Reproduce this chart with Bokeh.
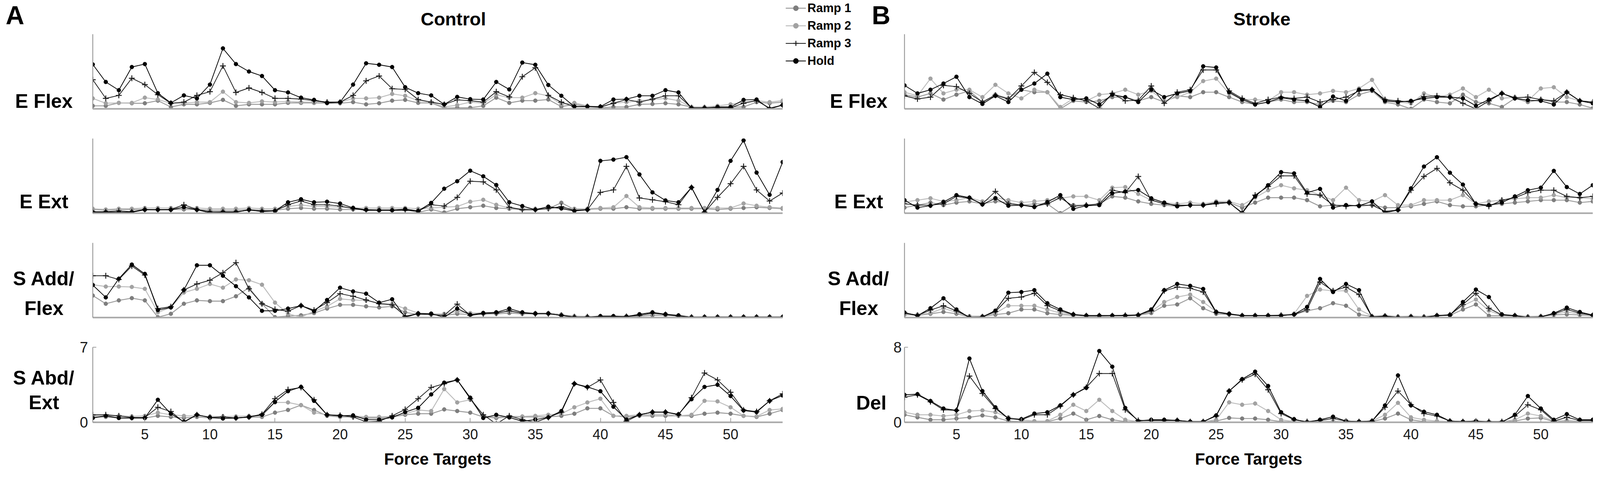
from bokeh.plotting import figure
from bokeh.layouts import column, row
from bokeh.models import Label, Legend, LegendItem, FixedTicker, Range1d, ColumnDataSource
from bokeh.embed import file_html
from bokeh.resources import INLINE

# ---------------- data ----------------
targets = list(range(1, 55))
series_labels = ["Ramp 1", "Ramp 2", "Ramp 3", "Hold"]
x_tick_values = [5, 10, 15, 20, 25, 30, 35, 40, 45, 50]
control_row_labels = [["E Flex"], ["E Ext"], ["S Add/", "Flex"], ["S Abd/", "Ext"]]
stroke_row_labels = [["E Flex"], ["E Ext"], ["S Add/", "Flex"], ["Del"]]
upper_ymax = 10
control_bottom_ymax = 7
stroke_bottom_ymax = 8

# Control - E Flex
ctrl_eflex_ramp1 = [0.4, 0.4, 0.8, 0.75, 0.75, 1.1, 0.25, 0.6, 0.6, 0.8,
                    1.2, 0.4, 0.6, 0.6, 0.6, 0.8, 0.8, 0.8, 0.75, 0.75,
                    0.9, 0.6, 0.75, 1.1, 1.2, 0.8, 0.8, 0.1, 0.15, 0.15,
                    0.4, 1.5, 0.8, 1.1, 1.1, 1.25, 0.3, 0.6, 0.3, 0.15,
                    0.25, 0.25, 0.6, 0.65, 0.75, 0.6, 0.25, 0.15, 0.25, 0.25,
                    0.25, 0.9, 0.75, 0.9]
ctrl_eflex_ramp2 = [1.4, 0.75, 0.8, 0.8, 1.5, 1.25, 0.75, 0.75, 0.9, 0.9,
                    2.3, 0.9, 0.8, 1.0, 0.9, 1.0, 0.9, 0.9, 0.9, 0.9,
                    1.4, 1.4, 1.5, 2.0, 1.75, 1.1, 0.9, 0.25, 0.5, 0.9,
                    0.75, 1.9, 1.5, 1.5, 2.1, 1.75, 0.6, 0.8, 0.4, 0.25,
                    0.75, 0.9, 1.1, 1.25, 1.4, 1.1, 0.25, 0.25, 0.4, 0.6,
                    0.9, 1.1, 0.9, 1.1]
ctrl_eflex_ramp3 = [3.9, 1.4, 1.8, 4.1, 3.25, 1.9, 0.75, 0.9, 1.8, 2.3,
                    5.75, 2.2, 2.8, 2.2, 1.4, 1.4, 1.3, 1.1, 0.9, 0.9,
                    1.8, 3.75, 4.4, 2.7, 2.6, 1.25, 0.9, 0.6, 1.2, 1.1,
                    0.9, 2.3, 1.6, 4.3, 5.5, 1.8, 0.9, 0.3, 0.3, 0.25,
                    0.75, 1.25, 0.9, 1.3, 1.75, 1.75, 0.15, 0.15, 0.15, 0.15,
                    0.75, 1.1, 0.1, 0.5]
ctrl_eflex_hold = [5.95, 3.6, 2.5, 5.6, 6.0, 2.1, 0.8, 1.8, 1.4, 3.25,
                   8.1, 6.0, 5.0, 4.4, 2.5, 2.2, 1.5, 1.2, 0.8, 0.9,
                   3.25, 6.1, 5.9, 5.6, 2.9, 2.1, 1.8, 0.6, 1.6, 1.3,
                   1.25, 3.6, 2.6, 6.2, 5.9, 3.2, 1.75, 0.3, 0.3, 0.3,
                   1.25, 1.3, 1.75, 1.75, 2.5, 2.2, 0.1, 0.1, 0.25, 0.25,
                   1.2, 1.25, 0.0, 0.5]

# Control - E Ext
ctrl_eext_ramp1 = [0.5, 0.4, 0.5, 0.5, 0.5, 0.5, 0.5, 0.5, 0.5, 0.4,
                   0.4, 0.4, 0.5, 0.4, 0.4, 0.6, 0.7, 0.6, 0.6, 0.5,
                   0.5, 0.5, 0.5, 0.5, 0.5, 0.1, 0.5, 0.1, 0.6, 0.8,
                   1.0, 0.7, 0.6, 0.5, 0.5, 0.6, 1.4, 0.5, 0.5, 0.6,
                   0.6, 0.8, 0.6, 0.6, 0.6, 0.6, 0.6, 0.6, 0.5, 0.6,
                   0.7, 0.8, 0.7, 0.6]
ctrl_eext_ramp2 = [0.6, 0.5, 0.6, 0.6, 0.7, 0.7, 0.7, 0.7, 0.7, 0.6,
                   0.6, 0.6, 0.7, 0.6, 0.6, 0.9, 1.1, 0.9, 0.9, 0.8,
                   0.7, 0.7, 0.7, 0.7, 0.7, 0.6, 0.7, 0.8, 0.9, 1.54,
                   1.8, 1.13, 0.7, 0.6, 0.6, 0.7, 0.7, 0.6, 0.6, 0.7,
                   0.8, 2.3, 0.8, 0.7, 0.7, 0.7, 0.7, 0.7, 0.7, 0.7,
                   1.3, 1.0, 0.8, 0.7]
ctrl_eext_ramp3 = [0.2, 0.2, 0.3, 0.2, 0.5, 0.46, 0.5, 1.13, 0.5, 0.2,
                   0.2, 0.2, 0.4, 0.3, 0.3, 1.13, 1.63, 1.13, 1.13, 0.96,
                   0.63, 0.38, 0.38, 0.38, 0.38, 0.3, 1.13, 0.96, 2.12, 4.28,
                   4.2, 3.12, 0.8, 0.46, 0.46, 0.63, 0.88, 0.38, 0.46, 2.79,
                   3.12, 6.27, 2.04, 1.79, 1.54, 1.13, 3.45, 0.13, 2.12, 3.95,
                   6.27, 3.12, 1.63, 2.7]
ctrl_eext_hold = [0.13, 0.13, 0.13, 0.13, 0.46, 0.46, 0.46, 0.8, 0.46, 0.05,
                  0.13, 0.13, 0.46, 0.22, 0.3, 1.46, 1.87, 1.46, 1.54, 1.29,
                  0.71, 0.46, 0.38, 0.38, 0.55, 0.3, 1.38, 3.28, 4.28, 5.69,
                  4.94, 3.78, 1.46, 0.96, 0.46, 0.88, 0.63, 0.3, 0.46, 7.01,
                  7.18, 7.51, 5.19, 2.79, 1.71, 1.46, 3.45, 0.13, 3.12, 7.01,
                  9.75, 5.44, 2.46, 6.85]

# Control - S Add/Flex
ctrl_sadd_ramp1 = [2.95, 1.85, 2.3, 2.6, 2.3, 0.05, 0.5, 1.85, 2.3, 2.2,
                   2.2, 2.85, 4.0, 1.85, 0.05, 0.2, 0.3, 0.6, 1.2, 1.7,
                   1.7, 1.5, 1.35, 1.5, 0.7, 0.4, 0.4, 0.3, 0.5, 0.4,
                   0.5, 0.5, 0.6, 0.5, 0.5, 0.6, 0.4, 0.1, 0.1, 0.1,
                   0.1, 0.1, 0.2, 0.3, 0.3, 0.2, 0.1, 0.1, 0.1, 0.1,
                   0.1, 0.1, 0.1, 0.1]
ctrl_sadd_ramp2 = [4.4, 4.15, 4.15, 4.1, 3.85, 0.7, 1.35, 3.35, 3.85, 4.5,
                   4.0, 5.1, 5.0, 4.4, 2.0, 0.5, 0.05, 0.85, 1.5, 2.5,
                   2.35, 2.3, 1.95, 1.8, 1.2, 0.6, 0.5, 0.5, 0.8, 0.6,
                   0.6, 0.7, 0.8, 0.6, 0.6, 0.6, 0.4, 0.2, 0.15, 0.15,
                   0.15, 0.2, 0.35, 0.5, 0.45, 0.3, 0.1, 0.1, 0.1, 0.1,
                   0.1, 0.1, 0.1, 0.1]
ctrl_sadd_ramp3 = [5.6, 5.6, 5.1, 6.9, 5.7, 1.2, 1.45, 3.7, 4.5, 5.0,
                   6.0, 7.35, 3.85, 1.85, 1.1, 0.85, 1.6, 1.0, 2.0, 3.2,
                   2.85, 2.35, 1.85, 1.7, 0.2, 0.5, 0.4, 0.3, 1.8, 0.3,
                   0.5, 0.6, 0.9, 0.6, 0.5, 0.5, 0.3, 0.1, 0.1, 0.1,
                   0.1, 0.15, 0.3, 0.6, 0.4, 0.2, 0.05, 0.05, 0.05, 0.05,
                   0.05, 0.05, 0.05, 0.05]
ctrl_sadd_hold = [4.35, 2.7, 5.2, 7.1, 5.85, 1.0, 1.35, 3.7, 7.0, 7.0,
                  5.6, 4.2, 2.7, 0.9, 0.9, 1.2, 1.6, 0.85, 2.35, 4.0,
                  3.5, 3.2, 2.0, 2.45, 0.05, 0.53, 0.53, 0.03, 1.2, 0.37,
                  0.62, 0.7, 1.2, 0.7, 0.53, 0.53, 0.28, 0.03, 0.03, 0.2,
                  0.2, 0.12, 0.45, 0.7, 0.45, 0.28, 0.03, 0.05, 0.05, 0.05,
                  0.05, 0.05, 0.05, 0.05]

# Control - S Abd/Ext (0-7)
ctrl_sabd_ramp1 = [0.5, 0.5, 0.4, 0.4, 0.4, 0.6, 0.5, 0.4, 0.5, 0.4,
                   0.4, 0.4, 0.45, 0.5, 0.9, 1.15, 1.6, 1.15, 0.6, 0.5,
                   0.5, 0.4, 0.4, 0.5, 0.7, 0.8, 0.8, 1.2, 1.05, 0.9,
                   0.5, 0.4, 0.5, 0.5, 0.5, 0.5, 0.6, 0.8, 1.3, 1.3,
                   0.6, 0.5, 0.6, 0.6, 0.6, 0.6, 0.6, 0.8, 0.9, 0.8,
                   0.6, 0.5, 0.8, 1.15]
ctrl_sabd_ramp2 = [0.6, 0.6, 0.6, 0.55, 0.6, 0.9, 0.7, 0.6, 0.6, 0.55,
                   0.55, 0.55, 0.6, 0.6, 1.85, 1.85, 1.6, 0.9, 0.7, 0.6,
                   0.6, 0.5, 0.5, 0.55, 0.8, 1.15, 1.05, 3.1, 1.85, 2.1,
                   0.6, 0.5, 0.55, 0.55, 0.6, 0.7, 0.8, 1.4, 1.85, 2.2,
                   0.6, 0.6, 0.7, 0.75, 0.75, 0.6, 0.7, 2.0, 1.95, 1.4,
                   0.6, 0.55, 1.15, 1.25]
ctrl_sabd_ramp3 = [0.7, 0.7, 0.6, 0.45, 0.45, 1.4, 1.0, 0.0, 0.7, 0.45,
                   0.5, 0.4, 0.5, 0.75, 2.2, 3.05, 3.25, 2.1, 0.7, 0.65,
                   0.5, 0.05, 0.1, 0.6, 1.2, 2.2, 3.25, 3.6, 3.95, 2.2,
                   0.7, -0.15, 0.6, 0.25, 0.0, 0.45, 0.95, 3.6, 3.25, 3.95,
                   1.85, 0.1, 0.7, 0.95, 0.95, 0.7, 2.3, 4.6, 3.95, 2.8,
                   1.15, 1.0, 2.0, 2.65]
ctrl_sabd_hold = [0.4, 0.6, 0.4, 0.4, 0.4, 2.1, 0.8, 0.05, 0.7, 0.45,
                  0.35, 0.4, 0.5, 0.7, 1.9, 2.9, 3.3, 2.0, 0.7, 0.6,
                  0.65, 0.25, 0.25, 0.45, 0.95, 1.35, 2.6, 3.7, 3.95, 2.3,
                  0.4, 0.7, 0.45, 0.1, 0.25, 0.45, 1.05, 3.6, 3.3, 2.9,
                  1.45, 0.25, 0.7, 0.95, 0.95, 0.75, 2.15, 3.3, 3.5, 2.45,
                  1.1, 0.95, 2.0, 2.5]

# Stroke - E Flex
strk_eflex_ramp1 = [1.9, 1.57, 2.07, 1.24, 1.9, 2.4, 0.91, 1.9, 1.4, 2.56,
                    2.23, 2.23, 0.0, 1.07, 0.91, 1.07, 1.57, 1.57, 1.07, 1.57,
                    0.91, 1.74, 1.57, 2.23, 2.23, 1.57, 0.91, 0.58, 0.91, 1.24,
                    0.91, 0.91, 0.58, 1.07, 0.91, 1.9, 2.4, 0.91, 0.58, 0.0,
                    1.24, 0.91, 0.74, 1.9, 0.91, 0.74, 0.25, 1.4, 0.91, 1.24,
                    0.91, 0.91, 0.58, 0.08]
strk_eflex_ramp2 = [2.23, 1.74, 4.05, 2.07, 2.56, 2.56, 1.57, 3.22, 2.07, 1.4,
                    2.56, 2.23, 0.25, 1.4, 1.07, 1.9, 2.07, 2.56, 1.9, 2.4,
                    1.07, 1.57, 2.23, 3.72, 4.05, 2.07, 1.24, 1.24, 1.07, 2.23,
                    2.23, 1.9, 2.07, 2.4, 2.23, 2.73, 3.88, 1.24, 0.91, 0.74,
                    2.07, 1.57, 1.9, 2.73, 1.57, 2.56, 1.4, 1.57, 1.07, 2.73,
                    2.89, 1.57, 1.07, 0.91]
strk_eflex_ramp3 = [1.74, 1.32, 1.57, 3.14, 2.98, 2.07, 0.91, 1.82, 1.32, 3.06,
                    4.88, 3.55, 1.9, 1.49, 1.07, 0.08, 2.07, 1.07, 1.16, 3.06,
                    0.74, 2.23, 2.56, 5.21, 5.21, 2.4, 1.4, 0.74, 1.24, 1.57,
                    1.4, 1.57, 0.91, 1.24, 1.57, 2.4, 2.56, 1.24, 1.07, 0.91,
                    1.65, 1.74, 1.57, 0.74, 0.0, 1.07, 2.07, 1.49, 1.57, 1.24,
                    1.07, 2.23, 1.07, 0.91]
strk_eflex_hold = [3.14, 2.07, 2.56, 3.39, 4.3, 1.57, 0.66, 1.74, 0.91, 2.56,
                   3.39, 4.71, 1.57, 1.24, 1.4, 0.58, 1.9, 1.57, 0.91, 2.56,
                   1.57, 2.07, 2.4, 5.7, 5.54, 2.23, 1.24, 0.58, 0.91, 1.49,
                   1.24, 1.07, 0.25, 1.65, 1.07, 2.56, 2.56, 1.07, 0.91, 1.07,
                   1.4, 1.57, 1.57, 1.4, 0.41, 1.24, 2.07, 1.4, 1.16, 1.07,
                   0.58, 2.23, 1.07, 0.74]

# Stroke - E Ext
strk_eext_ramp1 = [0.75, 1.08, 1.42, 1.08, 1.42, 1.58, 1.25, 1.58, 1.42, 1.08,
                   1.25, 1.25, 0.0, 1.08, 1.08, 1.25, 2.25, 2.08, 1.58, 1.25,
                   1.08, 0.92, 1.08, 1.08, 1.42, 1.42, 0.75, 1.42, 2.08, 2.08,
                   2.08, 1.75, 0.92, 1.08, 1.08, 0.92, 1.08, 0.75, 0.75, 0.92,
                   1.25, 1.58, 1.08, 0.92, 0.92, 1.08, 1.25, 1.42, 1.58, 1.75,
                   1.75, 1.75, 1.42, 1.58]
strk_eext_ramp2 = [1.5, 1.75, 2.0, 1.58, 1.75, 2.08, 1.58, 2.08, 1.75, 1.42,
                   1.58, 1.75, 2.0, 2.25, 2.25, 1.75, 3.42, 3.5, 2.58, 1.75,
                   1.42, 1.25, 1.42, 1.25, 1.58, 1.58, 1.08, 2.08, 3.08, 3.75,
                   3.33, 3.08, 2.42, 1.75, 3.42, 1.75, 1.58, 2.42, 1.08, 1.08,
                   1.75, 1.75, 1.75, 2.42, 1.25, 1.58, 1.75, 1.92, 2.08, 2.08,
                   2.42, 2.08, 2.08, 1.92]
strk_eext_ramp3 = [1.25, 1.08, 1.08, 1.25, 2.25, 2.0, 1.25, 2.92, 1.25, 1.08,
                   0.92, 1.25, 2.08, 0.92, 1.08, 1.25, 3.08, 2.75, 4.92, 1.75,
                   1.25, 1.08, 1.08, 1.08, 1.25, 1.42, 0.08, 2.42, 3.58, 5.0,
                   5.0, 2.58, 2.42, 1.08, 0.92, 1.08, 1.08, 0.25, 0.42, 3.08,
                   4.92, 6.0, 4.08, 3.08, 1.25, 0.92, 1.75, 2.08, 2.75, 3.08,
                   3.08, 2.25, 2.08, 2.25]
strk_eext_hold = [1.75, 0.75, 1.0, 1.5, 2.42, 2.08, 1.17, 2.0, 1.0, 1.08,
                  0.83, 1.5, 2.42, 0.58, 1.0, 1.08, 2.67, 2.92, 3.1, 2.0,
                  1.42, 0.92, 1.08, 1.08, 1.42, 1.42, 0.0, 2.25, 3.75, 5.5,
                  5.33, 2.75, 3.25, 0.75, 1.08, 1.0, 1.58, 0.08, 0.42, 3.33,
                  6.25, 7.5, 5.42, 3.83, 1.25, 1.08, 1.42, 2.25, 3.08, 3.42,
                  5.67, 3.5, 2.58, 3.75]

# Stroke - S Add/Flex
strk_sadd_ramp1 = [0.4, 0.3, 0.5, 0.75, 0.5, 0.1, 0.15, 0.4, 0.58, 1.08,
                   1.08, 0.58, 0.4, 0.3, 0.2, 0.2, 0.25, 0.25, 0.3, 0.6,
                   1.58, 1.75, 2.58, 1.25, 0.5, 0.4, 0.25, 0.25, 0.25, 0.3,
                   0.4, 0.9, 1.25, 1.92, 1.58, 0.4, 0.15, 0.2, 0.1, 0.15,
                   0.1, 0.25, 0.3, 1.08, 1.75, 0.25, 0.25, 0.2, 0.1, 0.15,
                   0.35, 0.42, 0.35, 0.25]
strk_sadd_ramp2 = [0.5, 0.4, 0.6, 1.25, 0.7, 0.2, 0.2, 0.6, 1.58, 1.58,
                   1.58, 1.08, 0.6, 0.4, 0.3, 0.3, 0.3, 0.3, 0.35, 0.8,
                   2.08, 2.75, 3.08, 2.08, 0.8, 0.5, 0.3, 0.3, 0.3, 0.35,
                   0.5, 2.9, 3.75, 3.58, 3.58, 1.08, 0.2, 0.25, 0.15, 0.2,
                   0.15, 0.3, 0.4, 1.58, 2.42, 0.92, 0.3, 0.3, 0.15, 0.2,
                   0.45, 0.75, 0.5, 0.3]
strk_sadd_ramp3 = [0.6, 0.3, 1.0, 1.58, 0.9, 0.05, 0.1, 0.8, 2.58, 2.75,
                   3.25, 1.6, 0.9, 0.4, 0.25, 0.25, 0.25, 0.3, 0.35, 0.9,
                   3.58, 4.08, 3.92, 3.42, 0.7, 0.45, 0.25, 0.25, 0.25, 0.3,
                   0.4, 1.08, 4.75, 3.58, 4.08, 3.08, 0.1, 0.2, 0.05, 0.1,
                   0.05, 0.25, 0.35, 1.75, 3.25, 1.25, 0.35, 0.25, 0.05, 0.1,
                   0.5, 1.08, 0.6, 0.3]
strk_sadd_hold = [0.67, 0.25, 1.25, 2.58, 1.08, 0.0, 0.08, 0.92, 3.33, 3.42,
                  3.67, 1.92, 1.08, 0.42, 0.25, 0.25, 0.25, 0.25, 0.33, 1.08,
                  3.67, 4.5, 4.25, 3.83, 0.75, 0.5, 0.25, 0.25, 0.25, 0.25,
                  0.42, 1.42, 5.17, 3.42, 4.5, 3.67, 0.08, 0.17, 0.0, 0.08,
                  0.0, 0.25, 0.33, 2.08, 3.75, 2.75, 0.42, 0.25, 0.0, 0.08,
                  0.58, 1.33, 0.75, 0.33]

# Stroke - Del (0-8)
strk_del_ramp1 = [0.8, 0.53, 0.27, 0.27, 0.4, 0.53, 0.73, 0.53, 0.13, 0.07,
                  0.07, 0.07, 0.4, 0.93, 0.27, 0.67, 0.27, 0.07, 0.05, 0.05,
                  0.05, 0.05, 0.05, 0.05, 0.13, 0.47, 0.4, 0.4, 0.27, 0.07,
                  0.05, 0.05, 0.05, 0.07, 0.05, 0.05, 0.07, 0.4, 0.93, 0.27,
                  0.07, 0.05, 0.05, 0.05, 0.05, 0.05, 0.05, 0.13, 0.4, 0.47,
                  0.07, 0.07, 0.05, 0.05]
strk_del_ramp2 = [1.07, 0.8, 0.8, 0.67, 0.8, 1.2, 1.27, 1.07, 0.53, 0.27,
                  0.13, 0.13, 0.8, 1.87, 1.2, 2.4, 1.2, 0.27, 0.07, 0.07,
                  0.07, 0.07, 0.07, 0.07, 0.27, 2.13, 1.87, 2.0, 1.2, 0.27,
                  0.07, 0.07, 0.1, 0.13, 0.07, 0.07, 0.13, 0.8, 2.07, 0.53,
                  0.27, 0.13, 0.07, 0.07, 0.07, 0.07, 0.07, 0.27, 0.93, 0.67,
                  0.13, 0.2, 0.13, 0.13]
strk_del_ramp3 = [2.67, 2.93, 2.2, 1.33, 1.27, 4.93, 3.07, 1.47, 0.4, 0.27,
                  0.8, 0.8, 1.73, 2.93, 3.73, 5.2, 5.2, 1.33, 0.2, 0.2,
                  0.2, 0.2, 0.07, 0.07, 0.67, 3.33, 4.53, 5.13, 3.47, 0.93,
                  0.27, 0.07, 0.2, 0.4, 0.13, 0.07, 0.13, 1.6, 3.33, 1.87,
                  0.93, 0.67, 0.13, 0.07, 0.13, 0.07, 0.07, 0.67, 1.87, 1.33,
                  0.13, 0.53, 0.2, 0.2]
strk_del_hold = [2.93, 3.0, 2.27, 1.47, 1.27, 6.8, 3.33, 1.6, 0.4, 0.33,
                 0.93, 1.07, 1.8, 2.93, 3.67, 7.6, 5.93, 1.53, 0.13, 0.27,
                 0.27, 0.2, 0.07, 0.07, 0.73, 3.33, 4.6, 5.4, 3.87, 1.07,
                 0.33, 0.0, 0.27, 0.6, 0.13, 0.07, 0.13, 1.8, 5.0, 1.8,
                 1.13, 0.8, 0.13, 0.07, 0.13, 0.0, 0.0, 0.8, 2.8, 1.47,
                 0.27, 0.87, 0.27, 0.27]

control_rows = [
    [ctrl_eflex_ramp1, ctrl_eflex_ramp2, ctrl_eflex_ramp3, ctrl_eflex_hold],
    [ctrl_eext_ramp1, ctrl_eext_ramp2, ctrl_eext_ramp3, ctrl_eext_hold],
    [ctrl_sadd_ramp1, ctrl_sadd_ramp2, ctrl_sadd_ramp3, ctrl_sadd_hold],
    [ctrl_sabd_ramp1, ctrl_sabd_ramp2, ctrl_sabd_ramp3, ctrl_sabd_hold],
]
stroke_rows = [
    [strk_eflex_ramp1, strk_eflex_ramp2, strk_eflex_ramp3, strk_eflex_hold],
    [strk_eext_ramp1, strk_eext_ramp2, strk_eext_ramp3, strk_eext_hold],
    [strk_sadd_ramp1, strk_sadd_ramp2, strk_sadd_ramp3, strk_sadd_hold],
    [strk_del_ramp1, strk_del_ramp2, strk_del_ramp3, strk_del_hold],
]

# ---------------- style / layout ----------------
FONT = "Liberation Sans"
STYLE = {
    "Ramp 1": dict(line="#9b9b9b", lw=2.4, marker="circle", size=10, fill="#7e7e7e", mline="#7e7e7e", mlw=1),
    "Ramp 2": dict(line="#bdbdbd", lw=2.4, marker="circle", size=10, fill="#a2a2a2", mline="#a2a2a2", mlw=1),
    "Ramp 3": dict(line="#1c1c1c", lw=1.9, marker="cross", size=15, fill=None, mline="#1c1c1c", mlw=2.4),
    "Hold": dict(line="#000000", lw=1.9, marker="circle", size=10, fill="#000000", mline="#000000", mlw=1),
}

S = 1.05  # page is photographed at this scale


def css(v):
    return v / S - 8


LEFT_W = 197          # label column
PL_BL, FW_L, PL_BR = 40, 1766, 6
MID_W = 272
PR_BL, FW_R, PR_BR = 34, 1762, 8
HEADER_H = 87
FH = [191, 191, 191, 192]
BT = [0, 0, 0, 20]
BB = [76, 76, 56, 100]
TOTAL_H = 1208

MID_X0 = LEFT_W + PL_BL + FW_L + PL_BR


def make_plot(series, ymax, fw, bl, br, bt, fh, bb, bottom, ystand):
    p = figure(frame_width=fw, frame_height=fh, min_border_left=bl, min_border_right=br,
               min_border_top=bt, min_border_bottom=bb,
               x_range=Range1d(1, 54), y_range=Range1d(0, ymax),
               output_backend="svg", toolbar_location=None, title=None,
               outline_line_color=None, background_fill_color="white", border_fill_color="white")
    p.xgrid.visible = False
    p.ygrid.visible = False
    xa = p.xaxis[0]
    ya = p.yaxis[0]
    xa.axis_line_color = "#a8a8a8"
    xa.axis_line_width = 4
    ya.axis_line_color = "#8a8a8a"
    ya.axis_line_width = 2
    for ax in (xa, ya):
        ax.minor_tick_line_color = None
    if bottom:
        xa.ticker = FixedTicker(ticks=x_tick_values)
        xa.major_tick_in = 11
        xa.major_tick_out = 0
        xa.major_tick_line_color = "#a0a0a0"
        xa.major_tick_line_width = 2
        xa.major_label_text_font = FONT
        xa.major_label_text_font_size = "36px"
        xa.major_label_text_color = "#1a1a1a"
        xa.major_label_standoff = 17
        xa.axis_label = "Force Targets"
        xa.axis_label_text_font = FONT
        xa.axis_label_text_font_size = "42px"
        xa.axis_label_text_font_style = "bold"
        xa.axis_label_text_color = "#000000"
        xa.axis_label_standoff = 24
        ya.ticker = FixedTicker(ticks=[0, ymax])
        ya.major_tick_in = 9
        ya.major_tick_out = 0
        ya.major_tick_line_color = "#a0a0a0"
        ya.major_tick_line_width = 2
        ya.major_label_text_font = FONT
        ya.major_label_text_font_size = "38px"
        ya.major_label_text_color = "#1a1a1a"
        ya.major_label_standoff = ystand
    else:
        for ax in (xa, ya):
            ax.ticker = FixedTicker(ticks=[])
            ax.major_tick_line_color = None
            ax.major_label_text_font_size = "0px"
    for name, vals in zip(series_labels, series):
        st = STYLE[name]
        src = ColumnDataSource(dict(x=targets, y=vals))
        p.line("x", "y", source=src, line_color=st["line"], line_width=st["lw"])
        p.scatter("x", "y", source=src, marker=st["marker"], size=st["size"],
                  fill_color=st["fill"], line_color=st["mline"], line_width=st["mlw"])
    return p


def blank(w, h):
    p = figure(width=w, height=h, x_range=Range1d(0, w), y_range=Range1d(0, h),
               min_border=0, x_axis_type=None, y_axis_type=None, output_backend="svg",
               toolbar_location=None, title=None, outline_line_color=None,
               background_fill_color="white", border_fill_color="white")
    p.grid.visible = False
    return p


def add_text(p, h, x, y_top, text, size, bold=True, align="center"):
    p.add_layout(Label(x=x, y=h - y_top, x_units="screen", y_units="screen", text=text,
                       text_font=FONT, text_font_size=f"{size}px",
                       text_font_style="bold" if bold else "normal",
                       text_align=align, text_baseline="middle", text_color="#000000"))


# label positions, picture pixels (centres)
CTRL_LABEL_Y = [[280], [550], [756, 836], [1023, 1089]]
STRK_LABEL_Y = [[280], [550], [756, 836], [1090]]
CTRL_LABEL_X = 126
STRK_LABEL_X = [2316, 2316, 2316, 2350]
ROW_FONT = 50

# ---- label figures ----
left_fig = blank(LEFT_W, TOTAL_H)
add_text(left_fig, TOTAL_H, css(48), 38, "A", 66)
for labs, ys in zip(control_row_labels, CTRL_LABEL_Y):
    for t, yy in zip(labs, ys):
        add_text(left_fig, TOTAL_H, css(CTRL_LABEL_X), css(yy), t, ROW_FONT)

mid_fig = blank(MID_W, TOTAL_H)
add_text(mid_fig, TOTAL_H, MID_W - 26, 38, "B", 66)
for i, (labs, ys) in enumerate(zip(stroke_row_labels, STRK_LABEL_Y)):
    for t, yy in zip(labs, ys):
        add_text(mid_fig, TOTAL_H, css(STRK_LABEL_X[i]) - MID_X0, css(yy), t, ROW_FONT)

header_l = blank(PL_BL + FW_L + PL_BR, HEADER_H)
add_text(header_l, HEADER_H, PL_BL + FW_L / 2, css(59), "Control", 47)
header_r = blank(PR_BL + FW_R + PR_BR, HEADER_H)
add_text(header_r, HEADER_H, PR_BL + FW_R / 2, css(59), "Stroke", 47)

left_plots = [header_l]
right_plots = [header_r]
for i in range(4):
    bottom = (i == 3)
    ymax_l = control_bottom_ymax if bottom else upper_ymax
    ymax_r = stroke_bottom_ymax if bottom else upper_ymax
    left_plots.append(make_plot(control_rows[i], ymax_l, FW_L, PL_BL, PL_BR, BT[i], FH[i], BB[i], bottom, 12))
    right_plots.append(make_plot(stroke_rows[i], ymax_r, FW_R, PR_BL, PR_BR, BT[i], FH[i], BB[i], bottom, 7))

# legend in the middle strip.  The legend needs renderers of its own figure, so the
# first control row's series are drawn there again on a y-range that lies far outside
# the strip (nothing of them is visible) and only lend their styles to the legend.
mid_fig.extra_y_ranges = {"offscreen": Range1d(-1000, -990)}
legend_items = []
for name, vals in zip(series_labels, control_rows[0]):
    st = STYLE[name]
    src = ColumnDataSource(dict(x=targets, y=vals))
    lr = mid_fig.line("x", "y", source=src, y_range_name="offscreen",
                      line_color=st["line"], line_width=st["lw"])
    sr = mid_fig.scatter("x", "y", source=src, y_range_name="offscreen", marker=st["marker"],
                         size=st["size"], fill_color=st["fill"], line_color=st["mline"],
                         line_width=st["mlw"])
    legend_items.append(LegendItem(label=name, renderers=[lr, sr]))

LEG_GH, LEG_SP = 33, 9
leg_top = 31 - LEG_GH / 2
legend = Legend(items=legend_items,
                location=(2, TOTAL_H - (leg_top + 4 * LEG_GH + 3 * LEG_SP)), orientation="vertical",
                glyph_width=52, glyph_height=LEG_GH, label_height=LEG_GH, label_standoff=4,
                spacing=LEG_SP, padding=0, margin=0, border_line_color=None,
                background_fill_alpha=0, label_text_font=FONT,
                label_text_font_size="31px", label_text_font_style="bold",
                label_text_color="#000000")
mid_fig.add_layout(legend)

layout = row(left_fig, column(*left_plots), mid_fig, column(*right_plots))
open("out.html", "w").write(file_html(layout, INLINE, title="EMG force targets"))
